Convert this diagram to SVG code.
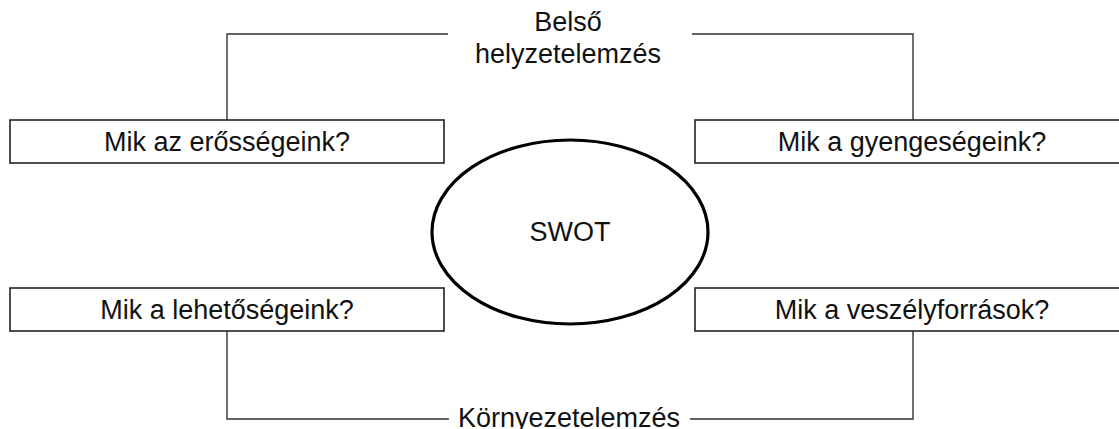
<svg xmlns="http://www.w3.org/2000/svg" width="1119" height="429" viewBox="0 0 1119 429">
<style>
.box{fill:#fff;stroke:#222;stroke-width:1.6}
.conn{fill:none;stroke:#333;stroke-width:1.4}
.t{font-family:"Liberation Sans",Arial,sans-serif;font-size:27px;fill:#111;text-anchor:middle}
.ell{fill:#fff;stroke:#000;stroke-width:3.2}
</style>
<rect width="1119" height="429" fill="#fff"/>
<g id="connectors">
<path class="conn" d="M227 120 V34 H448"/>
<path class="conn" d="M692 34 H913 V120"/>
<path class="conn" d="M227 331 V419 H449"/>
<path class="conn" d="M690 419 H913 V331"/>
</g>
<g id="internal-label">
<text class="t" x="568" y="31">Belső</text>
<text class="t" x="568" y="63">helyzetelemzés</text>
</g>
<g id="external-label">
<text class="t" x="569" y="427">Környezetelemzés</text>
</g>
<g id="strengths">
<rect class="box" x="10" y="120" width="434" height="43"/>
<text class="t" x="227" y="151">Mik az erősségeink?</text>
</g>
<g id="weaknesses">
<rect class="box" x="695" y="120" width="434" height="43"/>
<text class="t" x="912" y="151">Mik a gyengeségeink?</text>
</g>
<g id="opportunities">
<rect class="box" x="10" y="288" width="434" height="43"/>
<text class="t" x="227" y="319">Mik a lehetőségeink?</text>
</g>
<g id="threats">
<rect class="box" x="695" y="288" width="434" height="43"/>
<text class="t" x="912" y="319">Mik a veszélyforrások?</text>
</g>
<g id="swot">
<ellipse class="ell" cx="570" cy="232" rx="138" ry="92"/>
<text class="t" x="570" y="241">SWOT</text>
</g>
</svg>
